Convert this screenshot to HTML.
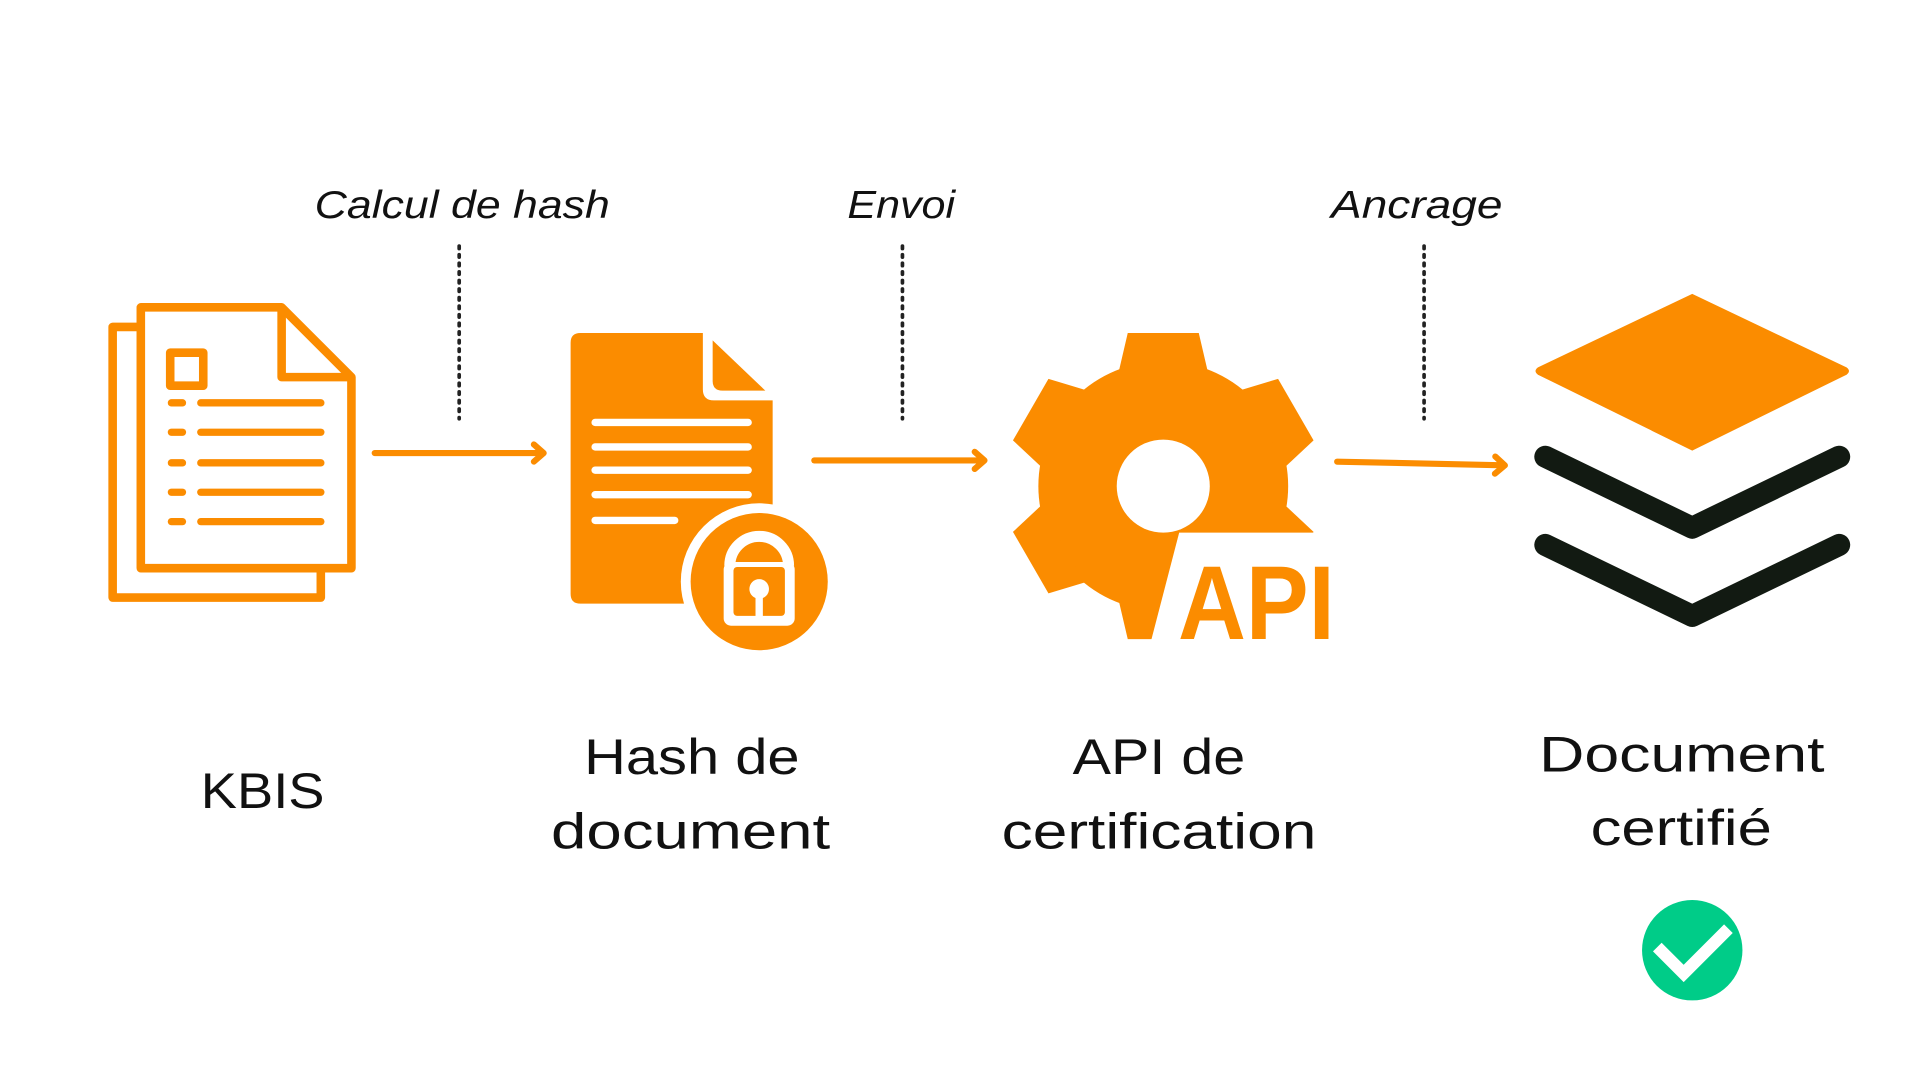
<!DOCTYPE html>
<html><head><meta charset="utf-8"><style>
html,body{margin:0;padding:0;background:#fff;width:1920px;height:1080px;overflow:hidden}
svg{display:block}
text{font-family:"Liberation Sans",sans-serif}
</style></head><body>
<svg width="1920" height="1080" viewBox="0 0 1568 882" xmlns="http://www.w3.org/2000/svg">
<defs>
<marker id="ah" markerWidth="16" markerHeight="20" refX="10" refY="10" orient="auto" markerUnits="userSpaceOnUse">
<path d="M3,3 L11,10 L3,17" fill="none" stroke="#FB8C00" stroke-width="5" stroke-linecap="round" stroke-linejoin="round"/>
</marker>
</defs>
<g fill="#FB8C00" stroke="none">
<g fill="none" stroke="#FB8C00" stroke-width="7" stroke-linejoin="round">
<path d="M115,267 H92 V488 H262 V464"/>
<path d="M115,251 H230 L287,308 V464 H115 Z"/>
<path d="M230,251 V308 H287"/>
<rect x="139" y="288" width="27" height="27"/>
</g>
<g stroke="#FB8C00" stroke-width="6" stroke-linecap="round">
<line x1="140" y1="329" x2="149" y2="329"/><line x1="164" y1="329" x2="262" y2="329"/>
<line x1="140" y1="353" x2="149" y2="353"/><line x1="164" y1="353" x2="262" y2="353"/>
<line x1="140" y1="378" x2="149" y2="378"/><line x1="164" y1="378" x2="262" y2="378"/>
<line x1="140" y1="402" x2="149" y2="402"/><line x1="164" y1="402" x2="262" y2="402"/>
<line x1="140" y1="426" x2="149" y2="426"/><line x1="164" y1="426" x2="262" y2="426"/>
</g>
<path d="M474,272 H574 V318 Q574,327 583,327 H631 V493 H474 Q466,493 466,485 V280 Q466,272 474,272 Z"/>
<path d="M582,278 L625,319 H590 Q582,319 582,311 Z"/>
<g stroke="#fff" stroke-width="6" stroke-linecap="round">
<line x1="486" y1="345" x2="611" y2="345"/><line x1="486" y1="365" x2="611" y2="365"/>
<line x1="486" y1="384" x2="611" y2="384"/><line x1="486" y1="404" x2="611" y2="404"/>
<line x1="486" y1="425" x2="551" y2="425"/>
</g>
<circle cx="620" cy="475" r="64" fill="#fff"/>
<circle cx="620" cy="475" r="56"/>
<path d="M596,462 A24,24 0 0 1 644,462" fill="none" stroke="#fff" stroke-width="9"/>
<rect x="591" y="459" width="58" height="52" rx="6" fill="#fff"/>
<rect x="599" y="463" width="42" height="40" rx="3"/>
<circle cx="620" cy="481" r="8" fill="#fff"/>
<rect x="617" y="484" width="6" height="23" rx="3" fill="#fff"/>
<g transform="translate(950,397)">
<circle r="102"/>
<g id="tooth"><path d="M-36,-95 L-29,-125 H29 L36,-95 Z"/></g>
<use href="#tooth" transform="rotate(60)"/><use href="#tooth" transform="rotate(120)"/>
<use href="#tooth" transform="rotate(180)"/><use href="#tooth" transform="rotate(240)"/>
<use href="#tooth" transform="rotate(300)"/>
<circle r="38" fill="#fff"/>
</g>
<polygon points="963,435 1095,435 1095,535 937,535" fill="#fff"/>
<text x="962" y="522" font-size="86" font-weight="bold" fill="#FB8C00" textLength="128" lengthAdjust="spacingAndGlyphs">API</text>
<path d="M1382,240 L1508,300 Q1512,303 1508,306 L1382,368 L1256,306 Q1252,303 1256,300 Z"/>
</g>
<g fill="none" stroke="#121a12" stroke-width="18" stroke-linejoin="round" stroke-linecap="round">
<polyline points="1262,373 1382,431 1502,373"/>
<polyline points="1262,445 1382,503 1502,445"/>
</g>
<g stroke="#FB8C00" stroke-width="5" stroke-linecap="round" fill="none">
<line x1="306" y1="370" x2="443" y2="370" marker-end="url(#ah)"/>
<line x1="665" y1="376" x2="803" y2="376" marker-end="url(#ah)"/>
<line x1="1092" y1="377" x2="1228" y2="380" marker-end="url(#ah)"/>
</g>
<g stroke="#222" stroke-width="3" stroke-dasharray="2,5" stroke-linecap="round">
<line x1="375" y1="201" x2="375" y2="342"/>
<line x1="737" y1="201" x2="737" y2="342"/>
<line x1="1163" y1="201" x2="1163" y2="342"/>
</g>
<g font-style="italic" font-size="32" fill="#111" lengthAdjust="spacingAndGlyphs">
<text x="257" y="178" textLength="241" lengthAdjust="spacingAndGlyphs">Calcul de hash</text>
<text x="692" y="178" textLength="88" lengthAdjust="spacingAndGlyphs">Envoi</text>
<text x="1087" y="178" textLength="140" lengthAdjust="spacingAndGlyphs">Ancrage</text>
</g>
<g font-size="41" fill="#111">
<text x="164" y="660" textLength="101" lengthAdjust="spacingAndGlyphs">KBIS</text>
<text x="477" y="632" textLength="176" lengthAdjust="spacingAndGlyphs">Hash de</text>
<text x="450" y="693" textLength="228" lengthAdjust="spacingAndGlyphs">document</text>
<text x="876" y="632" textLength="141" lengthAdjust="spacingAndGlyphs">API de</text>
<text x="818" y="693" textLength="257" lengthAdjust="spacingAndGlyphs">certification</text>
<text x="1257" y="630" textLength="233" lengthAdjust="spacingAndGlyphs">Document</text>
<text x="1299" y="690" textLength="148" lengthAdjust="spacingAndGlyphs">certifié</text>
</g>
<circle cx="1382" cy="776" r="41" fill="#00CC88"/>
<polyline points="1357,777 1375,795 1408,762" fill="none" stroke="#fff" stroke-width="10" stroke-linecap="square"/>
</svg>
</body></html>
